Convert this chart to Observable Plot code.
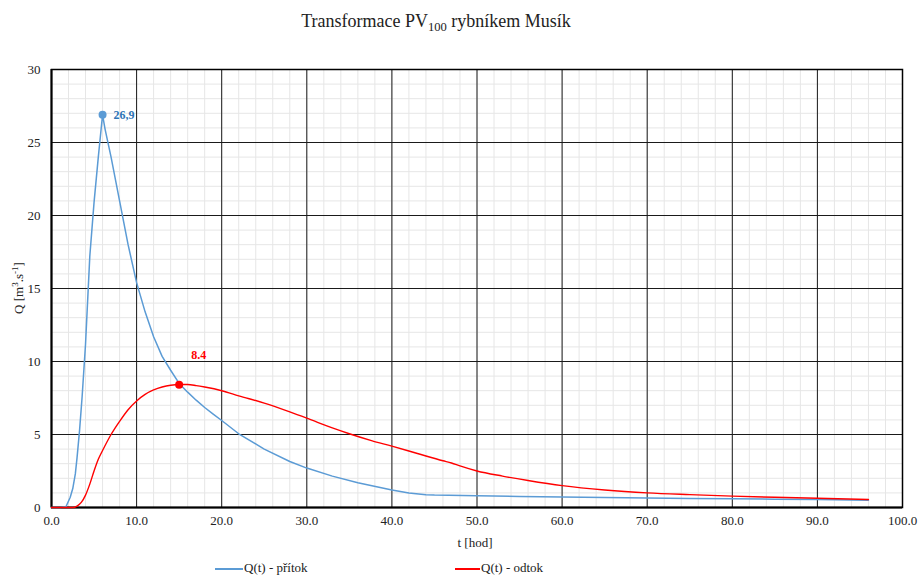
<!DOCTYPE html>
<html>
<head>
<meta charset="utf-8">
<script src="https://cdn.jsdelivr.net/npm/d3@7"></script>
<script src="https://cdn.jsdelivr.net/npm/@observablehq/plot@0.6"></script>
<style>
  html, body { margin: 0; padding: 0; background: #fff; overflow: hidden; }
  #wrap { position: relative; width: 918px; height: 577px; overflow: hidden; font-family: "Liberation Serif", "DejaVu Serif", "Noto Serif", "Times New Roman", serif; color: #222; }
  #chart { position: absolute; left: 0; top: 0; }
  .abs { position: absolute; white-space: nowrap; line-height: 1; }
  #title { left: 436px; top: 12px; transform: translateX(-50%); font-size: 18px; color: #222; }
  #ylab { left: 18px; top: 288px; transform: translate(-50%, -50%) rotate(-90deg); font-size: 13px; }
  #xlab { left: 475px; top: 542px; transform: translate(-50%, -50%); font-size: 13px; }
  .leg { top: 561px; font-size: 13px; }
  .sw { position: absolute; height: 1.5px; top: 568px; }
  sup, sub { font-size: 70%; line-height: 0; }
  sup { vertical-align: 0.5em; }
  sub { vertical-align: -0.35em; }
</style>
</head>
<body>
<div id="wrap">
  <div id="chart"></div>
  <div class="abs" id="title">Transformace PV<sub>100</sub> rybníkem Musík</div>
  <div class="abs" id="ylab">Q [m<sup>3</sup>.s<sup>-1</sup>]</div>
  <div class="abs" id="xlab">t [hod]</div>
  <div class="sw" style="left:215px; width:28px; background:#5b9bd5"></div>
  <div class="abs leg" style="left:244px">Q(t) - přítok</div>
  <div class="sw" style="left:455px; width:25px; background:#ff0000"></div>
  <div class="abs leg" style="left:481px">Q(t) - odtok</div>
</div>
<script>
// Inflow hydrograph Q(t) - přítok
const tIn = [0, 1, 1.7, 2.2, 2.5, 2.8, 3.0, 3.3, 3.6, 4.0, 4.5, 5.0, 5.5, 6.0, 6.3, 7, 8, 9, 10, 11, 12, 13, 14, 15, 16, 17, 18, 19, 20, 22, 25, 28, 30, 33, 36, 40, 42, 44, 45, 50, 55, 60, 65, 70, 75, 80, 85, 90, 96];
const qIn = [0, 0, 0.05, 0.7, 1.3, 2.3, 3.4, 5.3, 7.6, 11.2, 17.2, 20.9, 24.0, 26.9, 25.9, 24.0, 21.0, 18.0, 15.4, 13.4, 11.7, 10.35, 9.4, 8.5, 7.9, 7.35, 6.85, 6.4, 5.96, 5.05, 4.0, 3.15, 2.7, 2.15, 1.7, 1.2, 1.0, 0.88, 0.85, 0.8, 0.76, 0.72, 0.68, 0.65, 0.62, 0.6, 0.57, 0.55, 0.5];
// Outflow hydrograph Q(t) - odtok
const tOut = [0, 2.5, 3, 3.5, 4, 4.5, 5, 5.5, 6, 7, 8, 9, 10, 11, 12, 13, 14, 15, 16, 17, 18, 20, 22, 25, 28, 30, 33, 35, 37.6, 40, 43, 46, 47, 48, 50, 53, 56, 60, 65, 70, 75, 80, 85, 90, 96];
const qOut = [0, 0, 0.1, 0.35, 0.85, 1.6, 2.5, 3.3, 3.9, 5.0, 5.9, 6.7, 7.3, 7.75, 8.05, 8.25, 8.37, 8.42, 8.42, 8.35, 8.25, 8.0, 7.65, 7.15, 6.55, 6.12, 5.45, 5.05, 4.58, 4.2, 3.7, 3.2, 3.05, 2.85, 2.5, 2.15, 1.85, 1.5, 1.2, 1.0, 0.88, 0.78, 0.7, 0.63, 0.55];
// Peaks
const peakIn = {t: 6.0, q: 26.9, label: "26,9"};
const peakOut = {t: 15.0, q: 8.4, label: "8.4"};
// Axis ticks
const xTicks = [0, 10, 20, 30, 40, 50, 60, 70, 80, 90, 100];
const yTicks = [0, 5, 10, 15, 20, 25, 30];
const xMinor = d3.range(0, 101, 2);
const yMinor = d3.range(0, 31, 1);

const inflow = tIn.map((t, i) => ({t, q: qIn[i]}));
const outflow = tOut.map((t, i) => ({t, q: qOut[i]}));

const blue = "#5b9bd5";
const red = "#ff0000";

const chart = Plot.plot({
  width: 918,
  height: 577,
  marginTop: 69,
  marginBottom: 70,
  marginLeft: 51,
  marginRight: 16,
  style: {fontFamily: "'Liberation Serif', 'DejaVu Serif', 'Noto Serif', 'Times New Roman', serif", fontSize: "13px", color: "#222", background: "transparent"},
  x: {domain: [0, 100], label: null},
  y: {domain: [0, 30], label: null},
  marks: [
    Plot.gridX(xMinor, {stroke: "#e6e6e6", strokeOpacity: 1, strokeWidth: 1}),
    Plot.gridY(yMinor, {stroke: "#e6e6e6", strokeOpacity: 1, strokeWidth: 1}),
    Plot.gridX(xTicks, {stroke: "#1a1a1a", strokeOpacity: 1, strokeWidth: 1}),
    Plot.gridY(yTicks, {stroke: "#1a1a1a", strokeOpacity: 1, strokeWidth: 1}),
    Plot.frame({stroke: "#000", strokeWidth: 1.5}),
    Plot.ruleX([0], {stroke: "#000", strokeWidth: 2}),
    Plot.ruleY([0], {stroke: "#000", strokeWidth: 2}),
    Plot.axisX(xTicks, {tickSize: 0, tickPadding: 8, tickFormat: d => d.toFixed(1), fill: "#222", label: null}),
    Plot.axisY(yTicks, {tickSize: 0, tickPadding: 11, tickFormat: d => String(d), fill: "#222", label: null}),
    Plot.line(inflow, {x: "t", y: "q", stroke: blue, strokeWidth: 1.5, curve: "linear"}),
    Plot.line(outflow, {x: "t", y: "q", stroke: red, strokeWidth: 1.4, curve: "monotone-x"}),
    Plot.dot([peakIn], {x: "t", y: "q", r: 4, fill: blue, stroke: "none"}),
    Plot.dot([peakOut], {x: "t", y: "q", r: 4, fill: red, stroke: "none"}),
    Plot.text([peakIn], {x: "t", y: "q", text: "label", dx: 11, textAnchor: "start", fill: "#2e75b6", fontWeight: "bold", fontSize: 12}),
    Plot.text([peakOut], {x: "t", y: "q", text: "label", dx: 12, dy: -30, textAnchor: "start", fill: red, fontWeight: "bold", fontSize: 12})
  ]
});
document.getElementById("chart").appendChild(chart);
</script>
</body>
</html>
